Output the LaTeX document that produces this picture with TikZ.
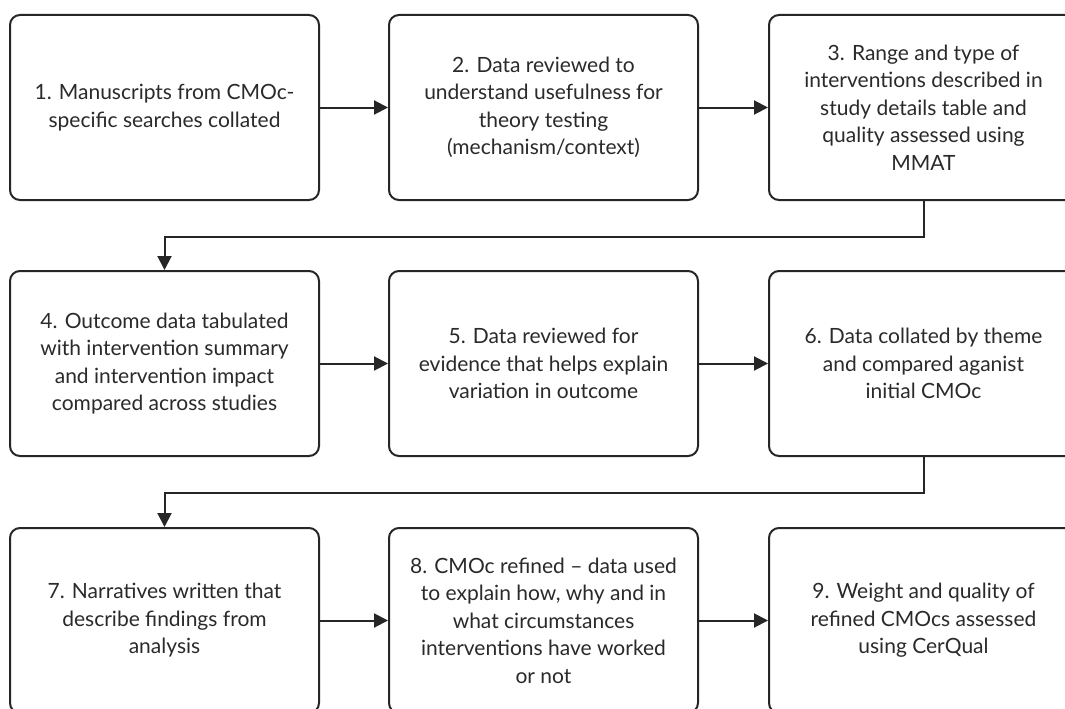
\documentclass[tikz,border=0pt]{standalone}
\usepackage{fontspec}
\setmainfont{Lato}
\usetikzlibrary{arrows.meta}
\definecolor{linec}{HTML}{262626}
\definecolor{textc}{HTML}{2A2A2A}
\tikzset{
  stepbox/.style={draw=linec, line width=2pt, rounded corners=10pt, minimum width=309pt, minimum height=185pt, inner sep=0pt, align=center, text=textc, font=\fontsize{21}{27.5}\selectfont},
  arr/.style={draw=linec, line width=2pt, -{Triangle[length=14pt,width=14pt]}}
}
\begin{document}
\begin{tikzpicture}[x=1pt,y=-1pt]
\useasboundingbox (0,0) rectangle (1065,709);
\clip (0,0) rectangle (1065,709);
\fill[white] (0,0) rectangle (1065,709);
\node[stepbox] (b1) at (164.5,107.5) {1. Manuscripts from CMOc-\\specific searches collated};
\node[stepbox] (b2) at (543.5,107.5) {2. Data reviewed to\\understand usefulness for\\theory testing\\(mechanism/context)};
\node[stepbox] (b3) at (923.5,107.5) {3. Range and type of\\interventions described in\\study details table and\\quality assessed using\\MMAT};
\node[stepbox] (b4) at (164.5,363.5) {4. Outcome data tabulated\\with intervention summary\\and intervention impact\\compared across studies};
\node[stepbox] (b5) at (543.5,363.5) {5. Data reviewed for\\evidence that helps explain\\variation in outcome};
\node[stepbox] (b6) at (923.5,363.5) {6. Data collated by theme\\and compared aganist\\initial CMOc};
\node[stepbox] (b7) at (164.5,620.5) {7. Narratives written that\\describe findings from\\analysis};
\node[stepbox] (b8) at (543.5,620.5) {8. CMOc refined – data used\\to explain how, why and in\\what circumstances\\interventions have worked\\or not};
\node[stepbox] (b9) at (923.5,620.5) {9. Weight and quality of\\refined CMOcs assessed\\using CerQual};
\draw[arr] (b1) -- (b2);
\draw[arr] (b2) -- (b3);
\draw[arr] (b4) -- (b5);
\draw[arr] (b5) -- (b6);
\draw[arr] (b7) -- (b8);
\draw[arr] (b8) -- (b9);
\draw[arr] (b3.south) -- ++(0,36) -| (b4.north);
\draw[arr] (b6.south) -- ++(0,36) -| (b7.north);
\end{tikzpicture}
\end{document}
